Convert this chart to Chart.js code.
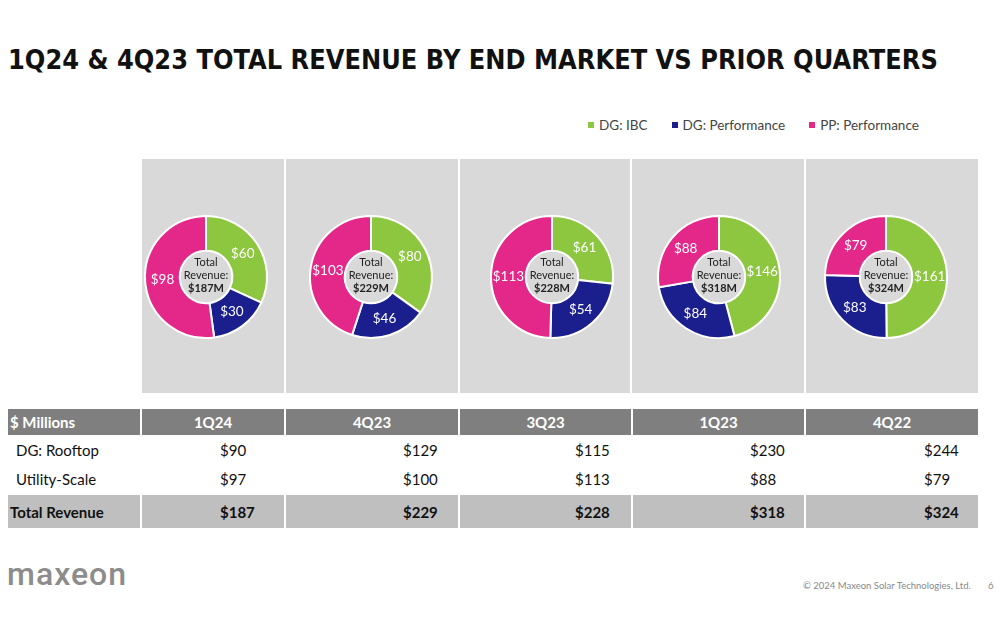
<!DOCTYPE html>
<html lang="en">
<head>
<meta charset="UTF-8">
<title>1Q24 & 4Q23 Total Revenue by End Market</title>
<script src="https://cdn.jsdelivr.net/npm/chart.js"></script>
<style>
    body {
        margin: 0;
        width: 1000px;
        height: 640px;
        background: #fff;
        font-family: 'Lato', sans-serif;
        position: relative;
        overflow: hidden;
    }
    h1 {
        position: absolute;
        left: 8px;
        top: 45px;
        margin: 0;
        font-family: 'DejaVu Sans', sans-serif;
        font-size: 26px;
        font-weight: bold;
        color: #111;
        white-space: nowrap;
        transform: scaleX(0.93);
        transform-origin: left top;
    }
    #legend {
        position: absolute;
        left: 588px;
        top: 117px;
        font-size: 13.5px;
        color: #444;
        white-space: nowrap;
    }
    #legend span.item { margin-right: 24px; }
    #legend i {
        display: inline-block;
        width: 6px;
        height: 6px;
        margin-right: 5px;
        vertical-align: 2px;
    }
    .panel {
        position: absolute;
        top: 159px;
        height: 234px;
        background: #d9d9d9;
    }
    canvas.donut { position: absolute; }
    table {
        position: absolute;
        left: 8px;
        top: 409px;
        border-collapse: collapse;
        font-size: 15px;
        color: #111;
    }
    td, th { padding: 0; border-left: 2px solid #fff; }
    th {
        background: #7f7f7f;
        color: #fff;
        height: 26px;
        font-weight: bold;
        text-align: center;
    }
    th.first { text-align: left; padding-left: 2px; border-left: none; }
    td.first { border-left: none; padding-left: 8px; }
    tr.row td { height: 29px; }
    tr.total td { background: #bfbfbf; height: 33px; font-weight: bold; border-top: 2px solid #fff; }
    tr.total td.first { padding-left: 2px; }
    #logo {
        position: absolute;
        left: 7px;
        top: 558px;
        font-family: 'Roboto', sans-serif;
        font-size: 32px;
        line-height: 32px;
        font-weight: 500;
        letter-spacing: 1px;
        color: #8c8c8c;
    }
    #foot {
        position: absolute;
        left: 803px;
        top: 580px;
        font-size: 9.5px;
        color: #888;
        white-space: nowrap;
    }
    #page {
        position: absolute;
        left: 988px;
        top: 580px;
        font-size: 9.5px;
        color: #888;
    }
</style>
</head>
<body>

<h1>1Q24 &amp; 4Q23 TOTAL REVENUE BY END MARKET VS PRIOR QUARTERS</h1>
<div id="legend"></div>
<div id="panels"></div>
<table id="tbl"></table>
<div id="logo">maxeon</div>
<div id="foot">© 2024 Maxeon Solar Technologies, Ltd.</div>
<div id="page">6</div>

<script>
    // quarters shown, left to right
    var quarters = ['1Q24', '4Q23', '3Q23', '1Q23', '4Q22'];

    // donut series ($M)
    var seriesNames = ['DG: IBC', 'DG: Performance', 'PP: Performance'];
    var seriesColors = ['#8dc63f', '#1b1f8e', '#e4288a'];
    var dgIbc = [60, 80, 61, 146, 161];
    var dgPerformance = [30, 46, 54, 84, 83];
    var ppPerformance = [98, 103, 113, 88, 79];
    var totalRevenue = [187, 229, 228, 318, 324];

    // table rows ($M)
    var rowLabels = ['DG: Rooftop', 'Utility-Scale'];
    var dgRooftop = [90, 129, 115, 230, 244];
    var utilityScale = [97, 100, 113, 88, 79];

    // panel layout
    var panelLeft = [142, 286, 460, 632, 806];
    var panelWidth = [142, 172, 170, 172, 172];
    var donutCenterX = [206, 371, 552, 719, 886];

    // legend
    var legend = document.getElementById('legend');
    seriesNames.forEach(function(name, i) {
        var s = document.createElement('span');
        s.className = 'item';
        s.innerHTML = '<i style="background:' + seriesColors[i] + '"></i>' + name;
        legend.appendChild(s);
    });

    // labels on each slice + text in the hole
    var donutText = {
        id: 'donutText',
        afterDatasetsDraw: function(chart) {
            var ctx = chart.ctx;
            var meta = chart.getDatasetMeta(0);
            var vals = chart.data.datasets[0].data;
            ctx.save();
            ctx.textAlign = 'center';
            ctx.textBaseline = 'middle';
            ctx.fillStyle = '#fff';
            ctx.font = '13.5px Lato';
            meta.data.forEach(function(arc, i) {
                var p = arc.tooltipPosition();
                ctx.fillText('$' + vals[i], p.x, p.y);
            });
            var c = meta.data[0];
            ctx.fillStyle = '#222';
            ctx.font = '11px Lato';
            ctx.fillText('Total', c.x, c.y - 15);
            ctx.fillText('Revenue:', c.x, c.y - 2);
            ctx.font = 'bold 11px Lato';
            ctx.fillText('$' + chart.options.plugins.donutText.total + 'M', c.x, c.y + 11);
            ctx.restore();
        }
    };

    var panels = document.getElementById('panels');
    quarters.forEach(function(q, i) {
        var p = document.createElement('div');
        p.className = 'panel';
        p.style.left = panelLeft[i] + 'px';
        p.style.width = panelWidth[i] + 'px';
        panels.appendChild(p);

        var cv = document.createElement('canvas');
        cv.className = 'donut';
        cv.width = 160;
        cv.height = 160;
        cv.style.left = (donutCenterX[i] - 80) + 'px';
        cv.style.top = (277 - 80) + 'px';
        panels.appendChild(cv);

        new Chart(cv.getContext('2d'), {
            type: 'doughnut',
            data: {
                labels: seriesNames,
                datasets: [{
                    data: [dgIbc[i], dgPerformance[i], ppPerformance[i]],
                    backgroundColor: seriesColors,
                    borderColor: '#ffffff',
                    borderWidth: 2
                }]
            },
            options: {
                responsive: false,
                animation: false,
                radius: 61,
                cutout: 34,
                layout: { padding: 0 },
                plugins: {
                    legend: { display: false },
                    tooltip: { enabled: false },
                    donutText: { total: totalRevenue[i] }
                }
            },
            plugins: [donutText]
        });
    });

    // table
    var colWidths = [130, 142, 172, 171, 171, 172];
    var valueIndent = [78, 117, 115, 117, 118];
    var tbl = document.getElementById('tbl');
    var html = '<tr><th class="first" style="width:' + colWidths[0] + 'px">$ Millions</th>';
    quarters.forEach(function(q, i) {
        html += '<th style="width:' + colWidths[i + 1] + 'px">' + q + '</th>';
    });
    html += '</tr>';
    [dgRooftop, utilityScale].forEach(function(row, r) {
        html += '<tr class="row"><td class="first">' + rowLabels[r] + '</td>';
        row.forEach(function(v, i) {
            html += '<td style="padding-left:' + valueIndent[i] + 'px">$' + v + '</td>';
        });
        html += '</tr>';
    });
    html += '<tr class="total"><td class="first">Total Revenue</td>';
    totalRevenue.forEach(function(v, i) {
        html += '<td style="padding-left:' + valueIndent[i] + 'px">$' + v + '</td>';
    });
    html += '</tr>';
    tbl.innerHTML = html;
</script>

</body>
</html>
